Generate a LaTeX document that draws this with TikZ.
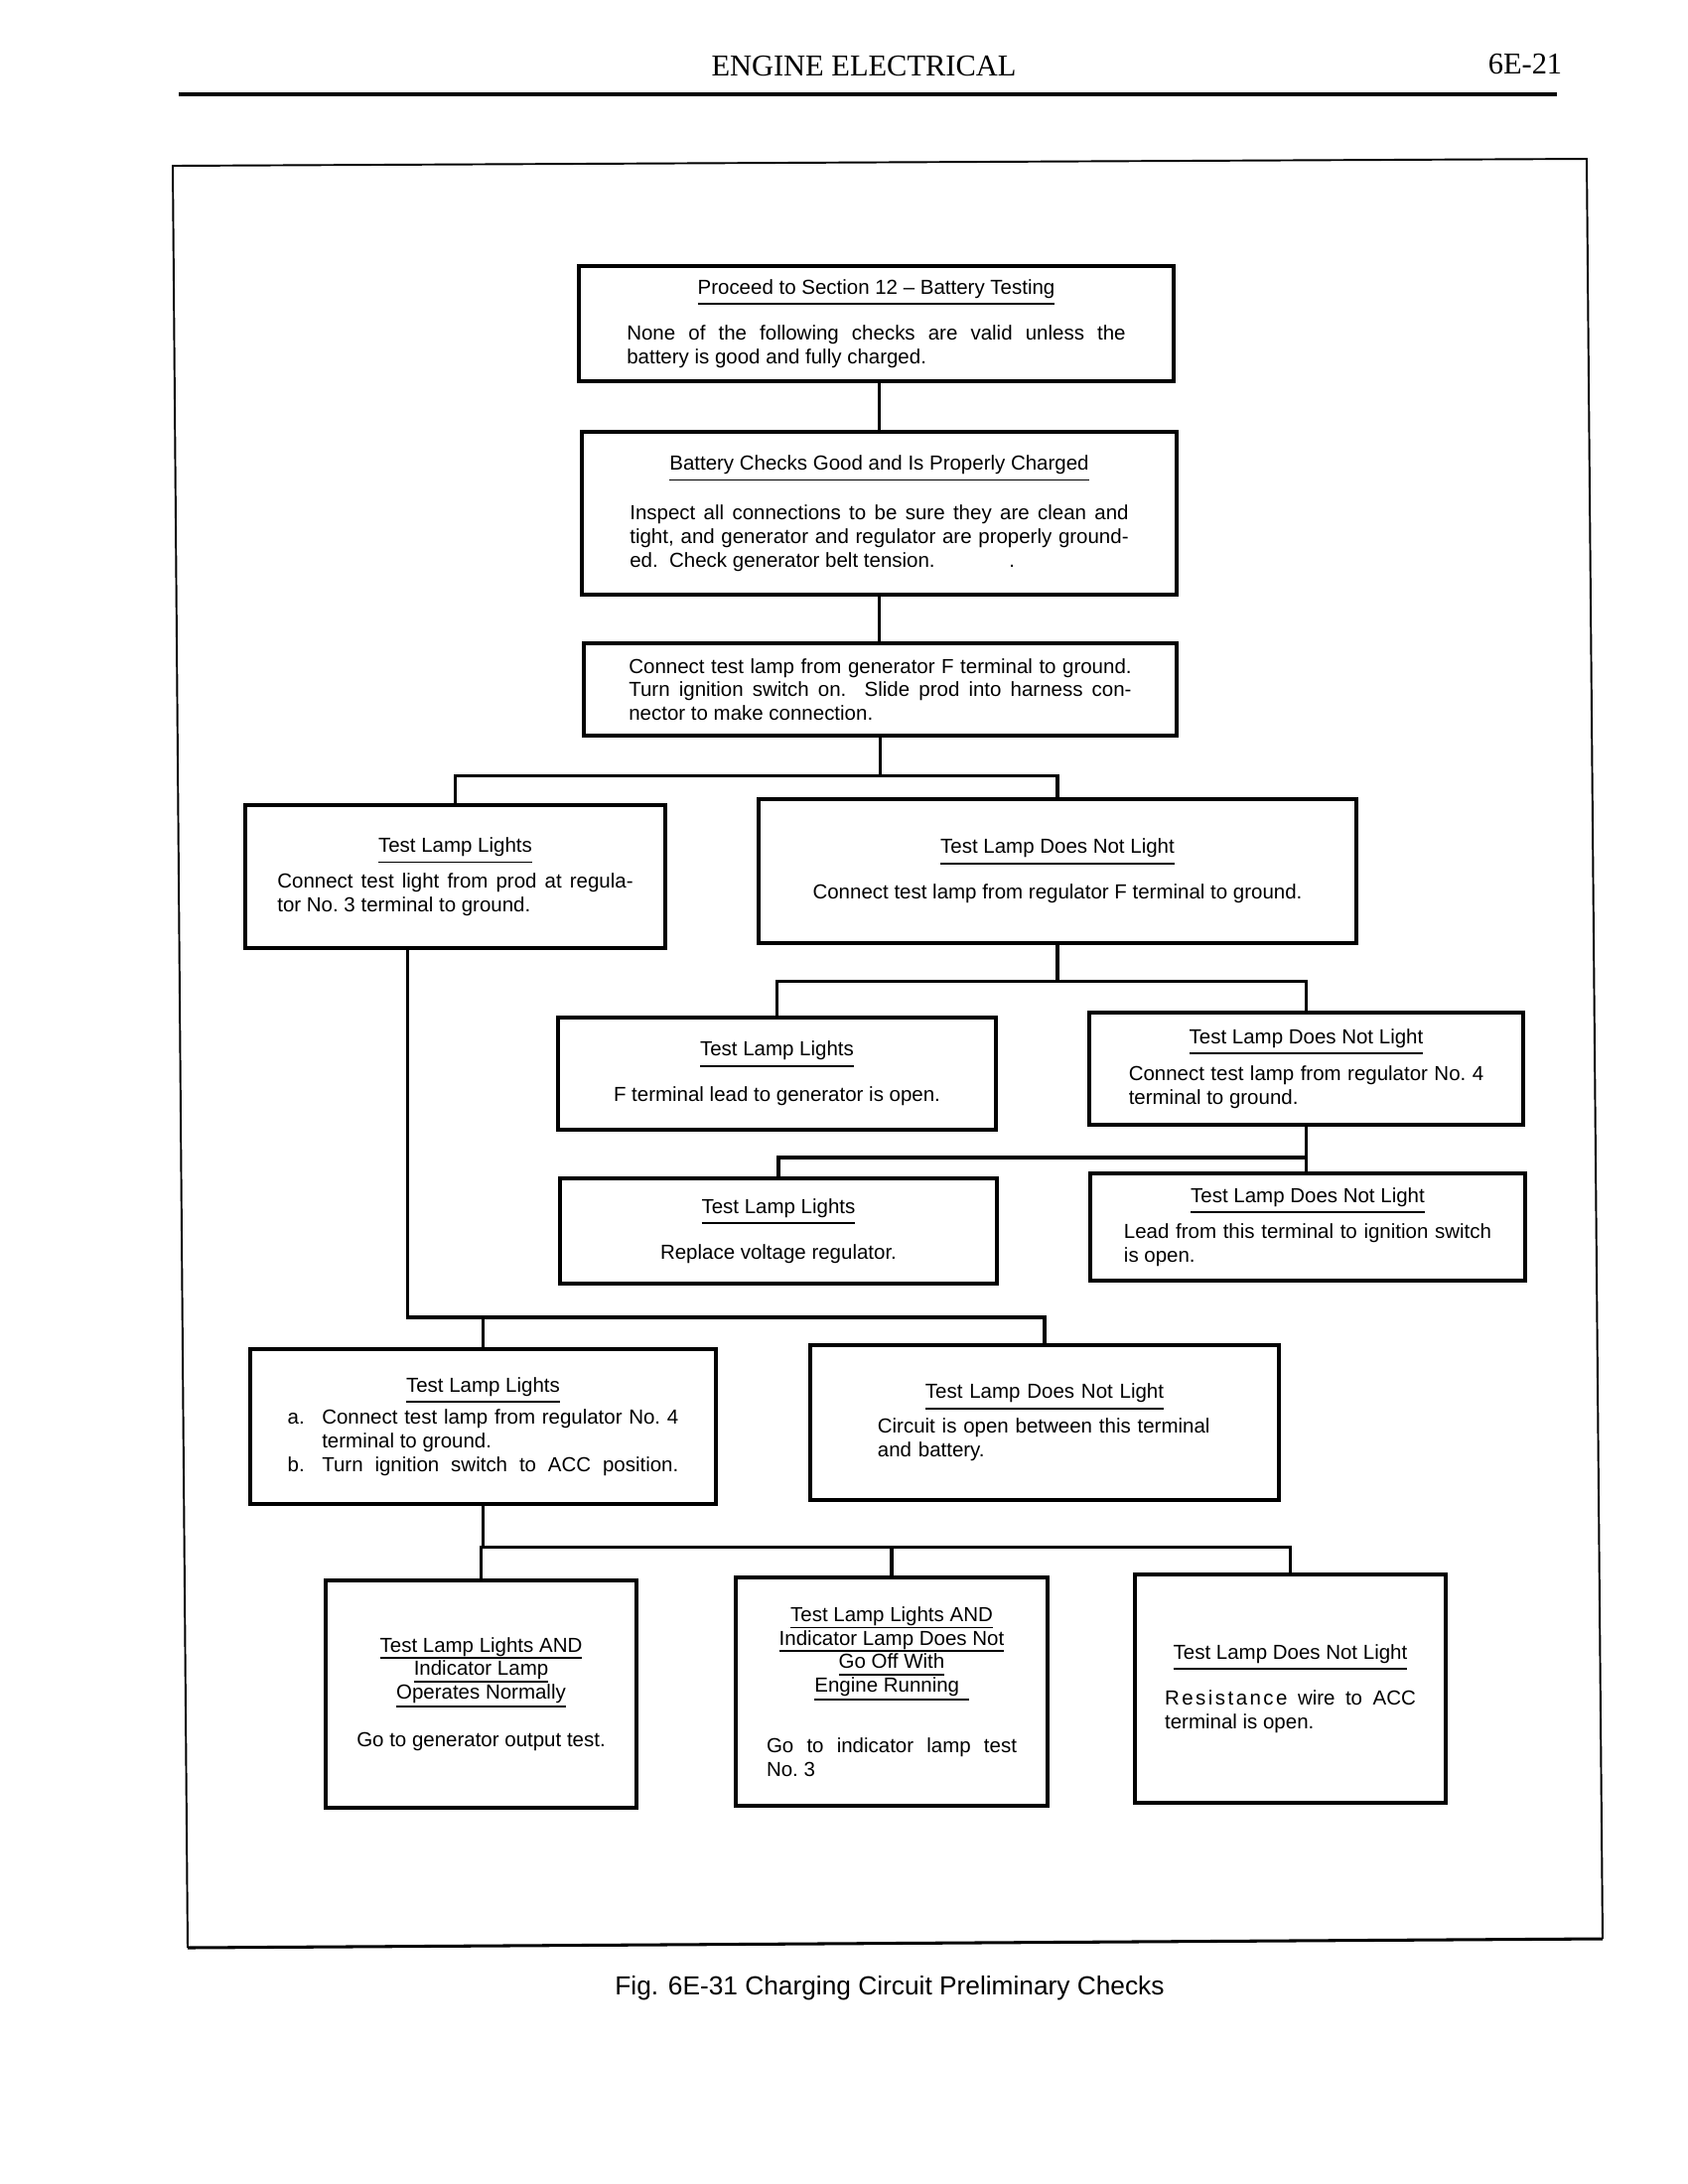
\documentclass[tikz,border=0pt]{standalone}
\usepackage{fontspec}
\setmainfont{Liberation Sans}
\newfontfamily\headfont{Liberation Serif}
\usetikzlibrary{calc}

\newsavebox{\ulbox}
\newcommand{\ul}[2][3.3pt]{\sbox{\ulbox}{#2}\smash{\rlap{\vrule height -#1 depth \dimexpr #1+0.6pt\relax width \wd\ulbox}}\usebox{\ulbox}}
\newcommand{\hd}[2][8pt]{{\centering #2\par}\vspace{#1}}

\begin{document}
\begin{tikzpicture}[x=0.127mm, y=-0.127mm]
    % Define styles
    \tikzstyle{box} = [rectangle, draw=black, line width=1.3pt, fill=white, inner sep=1mm, align=justify, font={\fontsize{7.4}{8.6}\selectfont\setlength{\parindent}{0pt}}]
    \tikzstyle{link} = [line width=1.2pt]
    \tikzstyle{frame} = [line width=0.7pt]

    \useasboundingbox (0,0) rectangle (1700,2200);

    % Page header
    \node[font=\headfont\fontsize{11}{13}\selectfont] (head) at (870,67) {ENGINE ELECTRICAL};
    \node[font=\headfont\fontsize{11}{13}\selectfont] (page) at (1536,65) {6E-21};
    \draw[line width=1.1pt] (180,95) -- (1568,95);

    % Frame
    \draw[frame] (189,1962) -- (174,167) -- (1598,160) -- (1614,1953);
    \draw[line width=1.1pt] (189,1962) -- (1614,1953);

    % Battery checks
    \node[box, text width=63.8mm, minimum width=76.1mm, minimum height=14.7mm] (proceed) at (882.5,326)
        {\hd[8.3pt]{\ul{Proceed to Section 12 -- Battery Testing}}None of the following checks are valid unless the\linebreak battery is good and fully charged.};
    \node[box, text width=63.8mm, minimum width=76.1mm, minimum height=20.8mm] (goodbatt) at (885.5,517)
        {\hd[9.4pt]{\ul{Battery Checks Good and Is Properly Charged}}Inspect all connections to be sure they are clean and\linebreak tight, and generator and regulator are properly ground-\linebreak ed.\ \ Check generator belt tension.\hspace{9.5mm}.};
    \node[box, text width=64.3mm, minimum width=75.8mm, minimum height=11.8mm] (fterm) at (886.5,694.5)
        {Connect test lamp from generator F terminal to ground.\linebreak Turn ignition switch on.\ \ Slide prod into harness con-\linebreak nector to make connection.};

    % First test lamp result
    \node[box, text width=45.5mm, minimum width=53.7mm, minimum height=18.3mm] (lights1) at (458.5,883)
        {\hd[4.3pt]{\ul{Test Lamp Lights}}Connect test light from prod at regula-\linebreak tor No.~3 terminal to ground.};
    \node[box, text width=66mm, minimum width=76.5mm, minimum height=18.4mm] (nolight1) at (1065,877.5)
        {\hd[8pt]{\ul{Test Lamp Does Not Light}}{\centering Connect test lamp from regulator F terminal to ground.\par}};

    % Regulator F terminal
    \node[box, text width=50mm, minimum width=56mm, minimum height=14.4mm] (lights2) at (782.5,1081.5)
        {\hd[8pt]{\ul{Test Lamp Lights}}{\centering F terminal lead to generator is open.\par}};
    \node[box, text width=45.4mm, minimum width=55.5mm, minimum height=14.4mm] (nolight2) at (1315.5,1076.5)
        {\hd[5pt]{\ul{Test Lamp Does Not Light}}Connect test lamp from regulator No.~4\linebreak terminal to ground.};

    % Regulator No. 4 terminal
    \node[box, text width=50mm, minimum width=55.9mm, minimum height=13.5mm] (lights3) at (784,1240)
        {\hd[8pt]{\ul{Test Lamp Lights}}{\centering Replace voltage regulator.\par}};
    \node[box, text width=47mm, minimum width=55.6mm, minimum height=13.7mm] (nolight3) at (1317,1236)
        {\hd[4.7pt]{\ul{Test Lamp Does Not Light}}Lead from this terminal to ignition switch\linebreak is open.};

    % Regulator No. 3 terminal
    \node[box, text width=50mm, minimum width=59.6mm, minimum height=19.8mm] (lights4) at (486.5,1437)
        {\hd[3.2pt]{\ul{Test Lamp Lights}}%
         \hangindent=4.4mm\hangafter=1\makebox[4.4mm][l]{a.}Connect test lamp from regulator No.~4\linebreak terminal to ground.\par
         {\parfillskip=0pt\hangindent=4.4mm\hangafter=1\makebox[4.4mm][l]{b.}Turn ignition switch to ACC position.\par}};
    \node[box, text width=42.7mm, minimum width=59.9mm, minimum height=19.8mm, align=left] (nolight4) at (1052,1433)
        {\hd[4pt]{\ul{Test Lamp Does Not Light}}Circuit is open between this terminal\\and battery.};

    % Ignition switch at ACC
    \node[box, text width=34mm, minimum width=39.8mm, minimum height=29.1mm] (normal) at (484.5,1706.5)
        {\hd[8.7pt]{\ul[1.9pt]{Test Lamp Lights AND}\\\ul[1.9pt]{Indicator Lamp}\\\ul[2.4pt]{Operates Normally}}{\centering Go to generator output test.\par}};
    \node[box, text width=32mm, minimum width=39.9mm, minimum height=29.2mm] (nooff) at (898,1704)
        {\hd[13.4pt]{\ul[1.9pt]{Test Lamp Lights AND}\\\ul[1.9pt]{Indicator Lamp Does Not}\\\ul[1.9pt]{Go Off With}\\\ul[2.4pt]{Engine Running\hspace{1.2mm}}}Go to indicator lamp test\linebreak No.~3};
    \node[box, text width=32.1mm, minimum width=39.8mm, minimum height=29.2mm] (nolight5) at (1299.5,1701)
        {\hd[8.3pt]{\ul{Test Lamp Does Not Light}}{\addfontfeature{LetterSpace=12}Resistance} wire to ACC\linebreak terminal is open.};

    % Connectors
    \draw[link] (goodbatt.north |- proceed.south) -- (goodbatt.north);
    \draw[link] (goodbatt.south) -- (goodbatt.south |- fterm.north);
    \path (fterm.south) ++(0,39) coordinate (j1);
    \draw[link] (fterm.south) -- (j1);
    \draw[link] (lights1.north) |- (j1) -| (nolight1.north);
    \path (nolight1.south) ++(0,37) coordinate (j2);
    \draw[link] (nolight1.south) -- (j2);
    \draw[link] (lights2.north) |- (j2) -| (nolight2.north);
    \path (nolight2.south) ++(0,31) coordinate (j3);
    \draw[link] (nolight2.south) -- (nolight2.south |- nolight3.north);
    \draw[link] (lights3.north) |- (j3);
    \path (lights1.south) ++(-48,370) coordinate (j4);
    \draw[link] (lights1.south -| j4) -- (j4) -| (nolight4.north);
    \draw[link] (lights4.north) -- (lights4.north |- j4);
    \path (lights4.south) ++(0,42) coordinate (j5);
    \draw[link] (lights4.south) -- (j5);
    \draw[link] (normal.north) |- (j5) -| (nolight5.north);
    \draw[link] (nooff.north) -- (nooff.north |- j5);

    % Caption
    \node[font=\fontsize{9.5}{11}\selectfont] (caption) at (896,2003) {Fig. 6E-31 Charging Circuit Preliminary Checks};
\end{tikzpicture}
\end{document}
